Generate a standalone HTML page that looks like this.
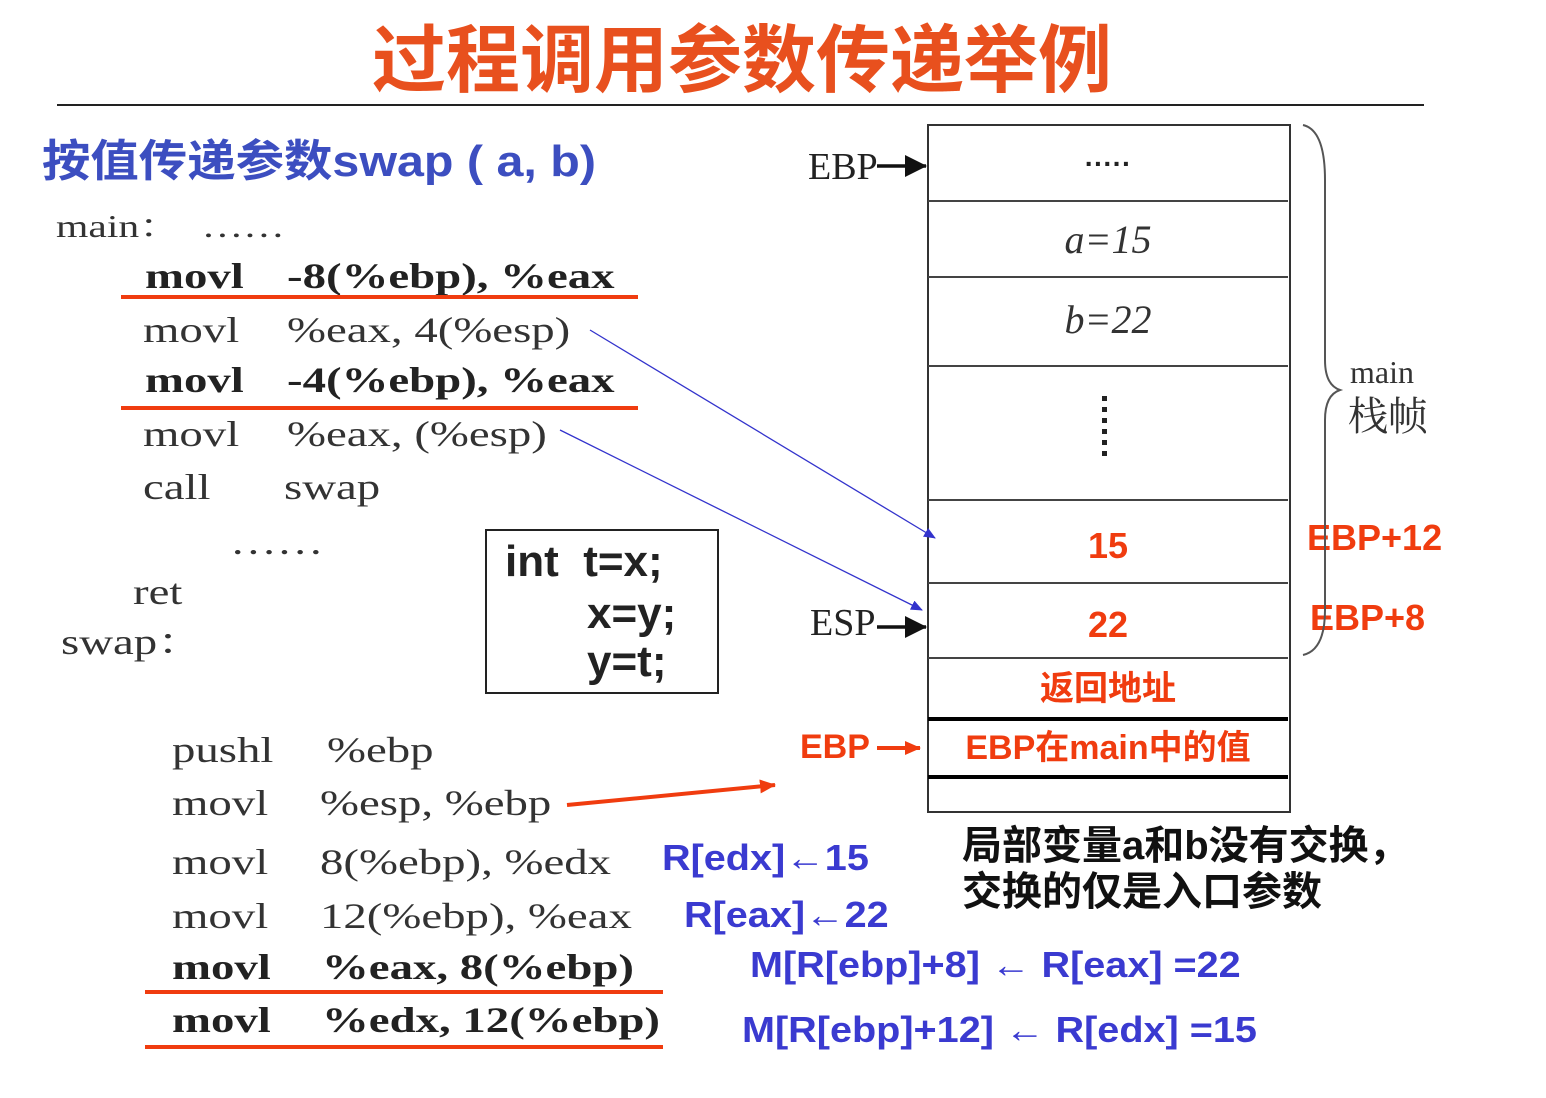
<!DOCTYPE html>
<html><head><meta charset="utf-8"><style>
body{margin:0;width:1546px;height:1098px;background:#fff;position:relative;overflow:hidden;font-family:"Liberation Sans","Noto Sans CJK SC",sans-serif}
.a{position:absolute;white-space:nowrap;line-height:1}
.s{font-family:"Liberation Serif","Noto Serif CJK SC",serif;color:#333;font-size:36px;transform:scaleX(1.3);transform-origin:0 0}
.b{font-weight:bold;color:#222}
.r{color:#f03c0f;font-weight:bold}
.bl{color:#3a3ad0;font-weight:bold;font-size:36px;transform:scaleX(1.1);transform-origin:0 0}
.hl{position:absolute;height:4px;background:#f03c0f}
.row{position:absolute;left:928px;width:360px;border-top:2px solid #444}
.c{position:absolute;left:928px;width:360px;text-align:center}
</style></head><body>
<div class="a" style="left:372px;top:18px;font-size:74px;color:#e8501e;font-family:'Noto Sans CJK SC',sans-serif;font-weight:bold">过程调用参数传递举例</div>
<div style="position:absolute;left:57px;top:104px;width:1367px;height:2px;background:#222"></div>
<div class="a" style="left:42px;top:140px;font-size:44px;color:#3c4ec0;font-weight:bold;transform:scaleX(1.1);transform-origin:0 0">按值传递参数swap ( a, b)</div>

<div class="a s" style="left:56px;top:210px;font-size:32px">main：&nbsp;&nbsp;……</div>
<div class="a s b" style="left:145px;top:258px">movl</div><div class="a s b" style="left:287px;top:258px">-8(%ebp), %eax</div>
<div class="hl" style="left:121px;top:295px;width:517px"></div>
<div class="a s" style="left:143px;top:312px">movl</div><div class="a s" style="left:287px;top:312px">%eax, 4(%esp)</div>
<div class="a s b" style="left:145px;top:362px">movl</div><div class="a s b" style="left:287px;top:362px">-4(%ebp), %eax</div>
<div class="hl" style="left:121px;top:406px;width:517px"></div>
<div class="a s" style="left:143px;top:416px">movl</div><div class="a s" style="left:287px;top:416px">%eax, (%esp)</div>
<div class="a s" style="left:143px;top:469px">call</div><div class="a s" style="left:284px;top:469px">swap</div>
<div class="a s" style="left:230px;top:524px">……</div>
<div class="a s" style="left:133px;top:574px">ret</div>
<div class="a s" style="left:61px;top:624px">swap：</div>

<div style="position:absolute;left:485px;top:529px;width:230px;height:161px;border:2px solid #222"></div>
<div class="a" style="left:505px;top:540px;font-size:44px;font-weight:bold;color:#222">int&nbsp; t=x;</div>
<div class="a" style="left:587px;top:592px;font-size:44px;font-weight:bold;color:#222">x=y;</div>
<div class="a" style="left:587px;top:640px;font-size:44px;font-weight:bold;color:#222">y=t;</div>

<div class="a s" style="left:172px;top:732px">pushl</div><div class="a s" style="left:327px;top:732px">%ebp</div>
<div class="a s" style="left:172px;top:785px">movl</div><div class="a s" style="left:320px;top:785px">%esp, %ebp</div>
<div class="a s" style="left:172px;top:844px">movl</div><div class="a s" style="left:320px;top:844px">8(%ebp), %edx</div>
<div class="a s" style="left:172px;top:898px">movl</div><div class="a s" style="left:320px;top:898px">12(%ebp), %eax</div>
<div class="a s b" style="left:172px;top:949px">movl</div><div class="a s b" style="left:322px;top:949px">%eax, 8(%ebp)</div>
<div class="hl" style="left:145px;top:990px;width:518px"></div>
<div class="a s b" style="left:172px;top:1002px">movl</div><div class="a s b" style="left:322px;top:1002px">%edx, 12(%ebp)</div>
<div class="hl" style="left:145px;top:1045px;width:518px"></div>

<div class="a bl" style="left:662px;top:840px">R[edx]←15</div>
<div class="a bl" style="left:684px;top:897px">R[eax]←22</div>
<div class="a bl" style="left:750px;top:947px">M[R[ebp]+8] ← R[eax] =22</div>
<div class="a bl" style="left:742px;top:1012px">M[R[ebp]+12] ← R[edx] =15</div>

<div class="a b" style="left:962px;top:826px;font-size:40px;color:#111">局部变量a和b没有交换，</div>
<div class="a b" style="left:962px;top:872px;font-size:40px;color:#111">交换的仅是入口参数</div>

<!-- stack -->
<div style="position:absolute;left:927px;top:124px;width:360px;height:685px;border:2px solid #333"></div>
<div class="row" style="top:200px"></div>
<div class="row" style="top:276px"></div>
<div class="row" style="top:365px"></div>
<div class="row" style="top:499px"></div>
<div class="row" style="top:582px"></div>
<div class="row" style="top:657px"></div>
<div class="row" style="top:717px;border-top:4px solid #000"></div>
<div class="row" style="top:775px;border-top:4px solid #000"></div>
<div class="c a" style="top:150px;font-size:28px;font-weight:bold;color:#222">·····</div>
<div class="c a" style="top:220px;font-size:40px;font-family:'Liberation Serif',serif;font-style:italic;color:#333">a=15</div>
<div class="c a" style="top:300px;font-size:40px;font-family:'Liberation Serif',serif;font-style:italic;color:#333">b=22</div>
<div style="position:absolute;left:1102px;top:396px;width:5px;height:66px;background:repeating-linear-gradient(#222 0 5px,transparent 5px 11px)"></div>
<div class="c a r" style="top:528px;font-size:36px">15</div>
<div class="c a r" style="top:607px;font-size:36px">22</div>
<div class="c a r" style="top:672px;font-size:34px">返回地址</div>
<div class="c a r" style="top:731px;font-size:34px">EBP在main中的值</div>

<div class="a" style="left:808px;top:148px;font-size:38px;font-family:'Liberation Serif',serif;color:#222">EBP</div>
<div class="a" style="left:810px;top:604px;font-size:38px;font-family:'Liberation Serif',serif;color:#222">ESP</div>
<div class="a r" style="left:800px;top:730px;font-size:34px">EBP</div>
<div class="a r" style="left:1307px;top:520px;font-size:36px">EBP+12</div>
<div class="a r" style="left:1310px;top:600px;font-size:36px">EBP+8</div>
<div class="a" style="left:1350px;top:356px;font-size:32px;font-family:'Liberation Serif',serif;color:#333">main</div>
<div class="a" style="left:1348px;top:394px;font-size:40px;font-family:'Noto Serif CJK SC',serif;color:#333">栈帧</div>

<svg style="position:absolute;left:0;top:0" width="1546" height="1098">
<defs>
<marker id="k" markerWidth="22" markerHeight="22" refX="21" refY="11" orient="auto" markerUnits="userSpaceOnUse"><path d="M0,0L22,11L0,22z" fill="#111"/></marker>
<marker id="bm" markerWidth="12" markerHeight="10" refX="11" refY="5" orient="auto" markerUnits="userSpaceOnUse"><path d="M0,0L12,5L0,10z" fill="#3333cc"/></marker>
<marker id="rm" markerWidth="16" markerHeight="14" refX="15" refY="7" orient="auto" markerUnits="userSpaceOnUse"><path d="M0,0L16,7L0,14z" fill="#f03c0f"/></marker>
</defs>
<line x1="877" y1="166" x2="926" y2="166" stroke="#111" stroke-width="3.5" marker-end="url(#k)"/>
<line x1="877" y1="627" x2="926" y2="627" stroke="#111" stroke-width="3.5" marker-end="url(#k)"/>
<line x1="877" y1="748" x2="920" y2="748" stroke="#f03c0f" stroke-width="4" marker-end="url(#rm)"/>
<line x1="590" y1="330" x2="935" y2="538" stroke="#3333cc" stroke-width="1.3" marker-end="url(#bm)"/>
<line x1="560" y1="430" x2="922" y2="610" stroke="#3333cc" stroke-width="1.3" marker-end="url(#bm)"/>
<line x1="567" y1="805" x2="775" y2="785" stroke="#f03c0f" stroke-width="4" marker-end="url(#rm)"/>
<path d="M1303,125 Q1325,130 1325,180 L1325,360 Q1325,385 1340,390 Q1325,395 1325,420 L1325,610 Q1325,650 1303,655" fill="none" stroke="#555" stroke-width="2"/>
</svg>
</body></html>
